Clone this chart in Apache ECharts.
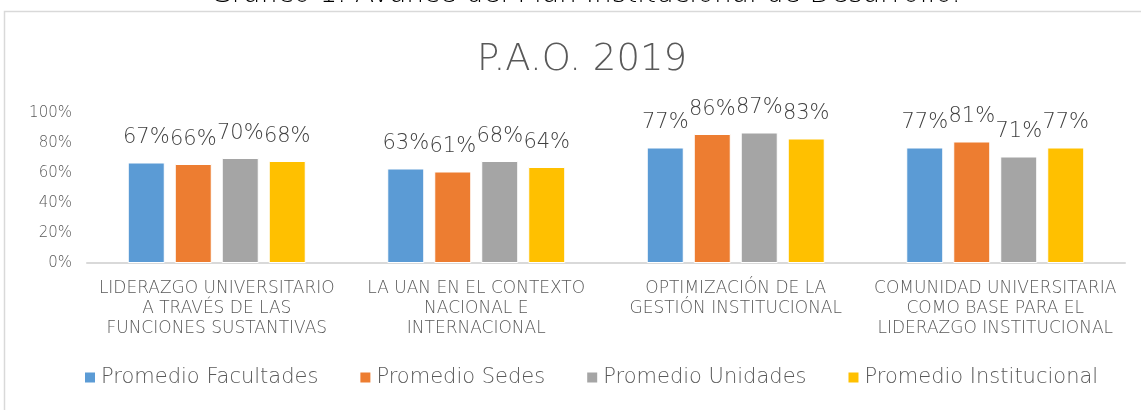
<!DOCTYPE html>
<html><head><meta charset="utf-8">
<script src="https://cdn.jsdelivr.net/npm/echarts@6/dist/echarts.min.js"></script>
<style>html,body{margin:0;padding:0;background:#fff}#c{width:1141px;height:410px}</style>
</head><body><div id="c"></div>
<script>
const categories = [
  "LIDERAZGO UNIVERSITARIO\nA TRAVÉS DE LAS\nFUNCIONES SUSTANTIVAS",
  "LA UAN EN EL CONTEXTO\nNACIONAL E\nINTERNACIONAL",
  "OPTIMIZACIÓN DE LA\nGESTIÓN INSTITUCIONAL",
  "COMUNIDAD UNIVERSITARIA\nCOMO BASE PARA EL\nLIDERAZGO INSTITUCIONAL"
];
const seriesNames = ["Promedio Facultades","Promedio Sedes","Promedio Unidades","Promedio Institucional"];
const facultades = [0.67, 0.63, 0.77, 0.77];
const sedes = [0.66, 0.61, 0.86, 0.81];
const unidades = [0.70, 0.68, 0.87, 0.71];
const institucional = [0.68, 0.64, 0.83, 0.77];
const yTicks = ["0%","20%","40%","60%","80%","100%"];
const colors = ["#5B9BD5","#ED7D31","#A5A5A5","#FFC000"];
const font = "DejaVu Sans";
const fw = 200;
const allData = [facultades, sedes, unidades, institucional];

const chart = echarts.init(document.getElementById('c'));
chart.setOption({
  animation:false,
  textStyle:{fontFamily:font,fontWeight:fw},
  graphic:[{type:'rect',shape:{x:4.5,y:11.5,width:1150,height:420},style:{fill:'none',stroke:'#D9D9D9',lineWidth:1.5},z:-1}],
  title:[
    {text:"Gráfico 1. Avance del Plan Institucional de Desarrollo.",left:205,top:-24,textStyle:{fontFamily:font,fontSize:28,fontWeight:fw,color:'#000'}},
    {text:"P.A.O. 2019",left:577,textAlign:'center',top:37,textStyle:{fontFamily:font,fontSize:37,fontWeight:fw,color:'#595959'}}
  ],
  legend:{bottom:17,left:78,itemWidth:12,itemHeight:12,itemGap:40,icon:'rect',
    textStyle:{fontFamily:font,fontSize:21,fontWeight:fw,color:'#595959'},data:seriesNames},
  grid:{left:87,right:16,top:113,bottom:147},
  xAxis:{type:'category',data:categories,
    axisLine:{lineStyle:{color:'#D9D9D9',width:2}},axisTick:{show:false},
    axisLabel:{fontFamily:font,fontSize:17,fontWeight:fw,color:'#595959',lineHeight:20,margin:16,interval:0}},
  yAxis:{type:'value',min:0,max:1,interval:0.2,splitLine:{show:false},axisLine:{show:false},axisTick:{show:false},
    axisLabel:{fontFamily:font,fontSize:15,fontWeight:fw,color:'#595959',margin:15,formatter:v=>yTicks[Math.round(v*5)]}},
  series: seriesNames.map((n,i)=>({
    name:n,type:'bar',data:allData[i],barWidth:37,barGap:'27%',barCategoryGap:'31%',
    itemStyle:{color:colors[i],borderColor:'#fff',borderWidth:1},
    label:{show:true,position:'top',distance:14,fontFamily:font,fontSize:21,fontWeight:fw,color:'#404040',
      formatter:p=>Math.round(p.value*100)+'%'}
  }))
});
</script></body></html>
